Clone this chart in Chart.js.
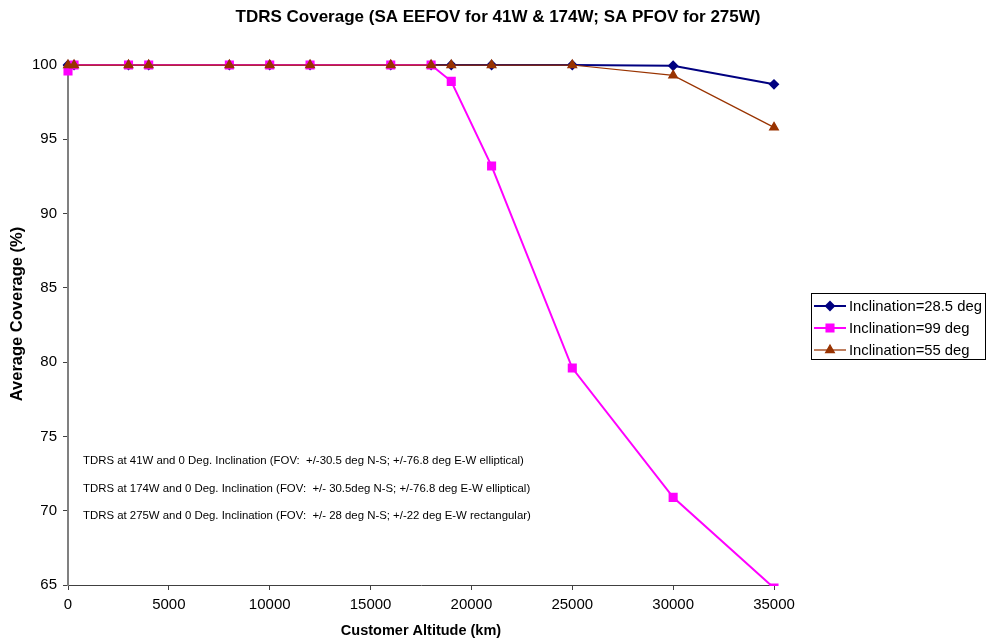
<!DOCTYPE html>
<html>
<head>
<meta charset="utf-8">
<script src="https://cdn.jsdelivr.net/npm/chart.js@4.4.1/dist/chart.umd.min.js"></script>
<style>
    html, body { margin: 0; padding: 0; background: #fff; }
    #grafico { display: block; }
</style>
</head>
<body>
<canvas id="grafico" width="990" height="640"></canvas>
<script>
const altitudes = [0, 300, 3000, 4000, 8000, 10000, 12000, 16000, 18000, 19000, 21000, 25000, 30000, 35000];
const incl_28 = [100, 100, 100, 100, 100, 100, 100, 100, 100, 100, 100, 100, 99.95, 98.7];
const incl_99 = [99.6, 100, 100, 100, 100, 100, 100, 100, 100, 98.9, 93.2, 79.6, 70.9, 64.8];
const incl_55 = [100, 100, 100, 100, 100, 100, 100, 100, 100, 100, 100, 100, 99.3, 95.8];
const rotulos = ['Inclination=28.5 deg', 'Inclination=99 deg', 'Inclination=55 deg'];
const titulo = 'TDRS Coverage (SA EEFOV for 41W & 174W; SA PFOV for 275W)';
const titulo_y = 'Average Coverage (%)';
const notas = [
    'TDRS at 41W and 0 Deg. Inclination (FOV:  +/-30.5 deg N-S; +/-76.8 deg E-W elliptical)',
    'TDRS at 174W and 0 Deg. Inclination (FOV:  +/- 30.5deg N-S; +/-76.8 deg E-W elliptical)',
    'TDRS at 275W and 0 Deg. Inclination (FOV:  +/- 28 deg N-S; +/-22 deg E-W rectangular)'
];

const fonte = 'Liberation Sans, Arial, sans-serif';

function pontos(valores){
    return altitudes.map((x, i) => ({x: x, y: valores[i]}));
}

// titulos, legenda e notas desenhados a mao
const extras = {
    id: 'extras',
    afterDraw(chart){
        const ctx = chart.ctx;
        ctx.save();

        ctx.fillStyle = '#000';
        ctx.textBaseline = 'middle';
        ctx.textAlign = 'center';
        ctx.font = 'bold 17px ' + fonte;
        ctx.fillText(titulo, 498, 17);

        ctx.save();
        ctx.translate(17, 314);
        ctx.rotate(-Math.PI / 2);
        ctx.font = 'bold 16.5px ' + fonte;
        ctx.fillText(titulo_y, 0, 0);
        ctx.restore();

        ctx.textAlign = 'left';
        ctx.font = '11.4px ' + fonte;
        const ys = [461, 489, 516];
        notas.forEach((t, i) => ctx.fillText(t, 83, ys[i]));

        // caixa da legenda
        ctx.strokeStyle = '#000';
        ctx.lineWidth = 1;
        ctx.strokeRect(811.5, 293.5, 174, 66);

        ctx.font = '14.8px ' + fonte;
        chart.data.datasets.forEach((ds, i) => {
            const y = 306 + i * 22;
            ctx.strokeStyle = ds.borderColor;
            ctx.lineWidth = ds.borderWidth;
            ctx.beginPath();
            ctx.moveTo(814, y);
            ctx.lineTo(846, y);
            ctx.stroke();
            ctx.fillStyle = ds.pointBackgroundColor;
            ctx.strokeStyle = ds.pointBorderColor;
            Chart.helpers.drawPoint(ctx, {
                pointStyle: ds.pointStyle,
                radius: ds.pointRadius,
                borderWidth: 1,
                rotation: 0
            }, 830, y);
            ctx.fillStyle = '#000';
            ctx.fillText(rotulos[i], 849, y + 1);
        });

        ctx.restore();
    }
};

const recorte = { left: 10, top: 10, right: 10, bottom: 1 };

new Chart(document.getElementById('grafico'), {
    type: 'line',
    data: {
        datasets: [{
            label: rotulos[0],
            data: pontos(incl_28),
            borderColor: '#000080',
            backgroundColor: '#000080',
            pointBackgroundColor: '#000080',
            pointBorderColor: '#000080',
            borderWidth: 2,
            pointStyle: 'rectRot',
            pointRadius: 4,
            clip: recorte,
            order: 2
        }, {
            label: rotulos[1],
            data: pontos(incl_99),
            borderColor: '#ff00ff',
            backgroundColor: '#ff00ff',
            pointBackgroundColor: '#ff00ff',
            pointBorderColor: '#ff00ff',
            borderWidth: 2,
            pointStyle: 'rect',
            pointRadius: 5,
            clip: recorte,
            order: 1
        }, {
            label: rotulos[2],
            data: pontos(incl_55),
            borderColor: '#993300',
            backgroundColor: '#993300',
            pointBackgroundColor: '#993300',
            pointBorderColor: '#993300',
            borderWidth: 1.25,
            pointStyle: 'triangle',
            pointRadius: 5,
            clip: recorte,
            order: 0
        }]
    },
    options: {
        responsive: false,
        animation: false,
        layout: { padding: { left: 0, right: 216, top: 65, bottom: 0 } },
        plugins: {
            legend: { display: false },
            tooltip: { enabled: false },
            title: { display: false }
        },
        scales: {
            x: {
                type: 'linear',
                min: 0,
                max: 35000,
                afterFit(scale){ scale.height = 55; },
                border: { display: true, color: '#404040', width: 1 },
                grid: { drawOnChartArea: false, drawTicks: true, tickLength: 5, color: '#404040' },
                ticks: {
                    stepSize: 5000,
                    color: '#000',
                    padding: 6,
                    maxRotation: 0,
                    font: { family: fonte, size: 15 },
                    callback: (v) => String(v)
                },
                title: {
                    display: true,
                    text: 'Customer Altitude (km)',
                    color: '#000',
                    font: { family: fonte, size: 14.5, weight: 'bold' },
                    padding: { top: 0, bottom: 0 }
                }
            },
            y: {
                min: 65,
                max: 100,
                afterFit(scale){ scale.width = 68; },
                border: { display: true, color: '#808080', width: 2 },
                grid: { drawOnChartArea: false, drawTicks: true, tickLength: 5, color: '#404040' },
                ticks: {
                    stepSize: 5,
                    color: '#000',
                    padding: 6,
                    font: { family: fonte, size: 15 },
                    callback: (v) => String(v)
                }
            }
        }
    },
    plugins: [extras]
});
</script>
</body>
</html>
